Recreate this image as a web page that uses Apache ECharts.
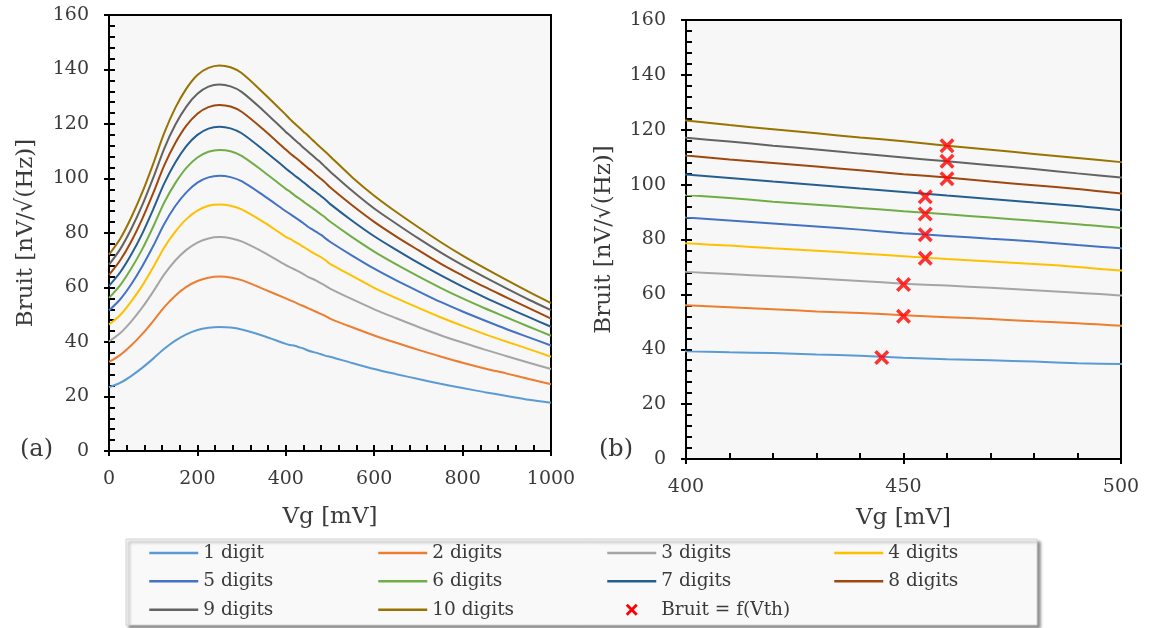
<!DOCTYPE html>
<html>
<head>
<meta charset="utf-8">
<script src="https://cdn.jsdelivr.net/npm/echarts@6/dist/echarts.min.js"></script>
<style>
html,body{margin:0;padding:0;background:#fff;}
#chart{width:1149px;height:628px;}
</style>
</head>
<body>
<div id="chart"></div>
<script>
// ---- data ----
const vg = [0,25,50,75,100,125,150,175,200,225,250,275,300,350,400,410,420,430,440,450,460,470,480,490,500,550,600,650,700,750,800,850,900,950,1000];
const digit1  = [23.4,25.0,27.5,30.5,33.9,37.5,40.5,42.8,44.4,45.2,45.5,45.3,44.6,42.2,39.3,38.9,38.6,38.1,37.6,36.9,36.4,36.0,35.5,34.9,34.6,32.3,30.1,28.2,26.4,24.7,23.1,21.6,20.2,18.8,17.7];
const digit2  = [32.7,35.2,38.7,42.9,47.7,52.8,57.0,60.2,62.4,63.6,64.0,63.7,62.7,59.4,56.0,55.3,54.6,53.8,53.2,52.4,51.7,51.0,50.2,49.5,48.6,45.4,42.4,39.7,37.1,34.7,32.4,30.3,28.4,26.4,24.5];
const digit3  = [40.2,43.2,47.5,52.6,58.5,64.8,69.9,73.8,76.5,78.0,78.5,78.1,76.9,72.9,68.2,67.4,66.6,65.8,64.9,63.9,63.2,62.4,61.5,60.6,59.6,55.7,52.0,48.7,45.5,42.5,39.8,37.2,34.8,32.4,30.1];
const digit4  = [46.4,49.8,54.8,60.6,67.4,74.7,80.5,85.1,88.2,90.0,90.5,90.0,88.7,84.0,78.6,77.8,76.8,75.9,74.9,73.9,72.9,72.0,71.1,70.0,68.7,64.3,59.9,56.1,52.5,49.1,45.9,42.9,40.1,37.4,34.6];
const digit5  = [51.6,55.6,61.1,67.7,75.2,83.3,89.9,94.9,98.5,100.4,101.0,100.5,99.0,93.7,88.0,86.9,85.8,84.7,83.6,82.3,81.3,80.3,79.3,78.0,76.8,71.7,66.9,62.6,58.6,54.7,51.2,47.9,44.7,41.7,38.7];
const digit6  = [56.2,60.8,66.9,74.0,82.3,91.2,98.3,103.9,107.7,109.8,110.5,110.0,108.3,102.5,96.2,95.1,93.8,92.7,91.5,90.3,89.2,88.0,86.8,85.6,84.2,78.5,73.2,68.5,64.1,59.9,56.0,52.4,49.0,45.6,42.3];
const digit7  = [60.6,65.5,72.0,79.7,88.7,98.2,105.9,111.9,116.0,118.3,119.0,118.4,116.6,110.4,103.7,102.4,101.1,99.9,98.6,97.3,96.0,94.8,93.5,92.2,90.7,84.5,78.8,73.8,69.0,64.5,60.3,56.4,52.7,49.1,45.6];
const digit8  = [64.6,69.9,76.8,85.1,94.6,104.8,113.0,119.4,123.8,126.2,127.0,126.4,124.5,117.9,110.6,109.2,107.9,106.6,105.2,103.8,102.6,101.1,99.8,98.4,96.8,90.2,84.1,78.7,73.7,68.8,64.4,60.2,56.3,52.4,48.6];
const digit9  = [68.4,74.0,81.4,90.1,100.2,111.0,119.7,126.4,131.1,133.7,134.5,133.8,131.8,124.8,117.1,115.7,114.2,112.8,111.3,109.9,108.5,107.1,105.7,104.1,102.6,95.5,89.0,83.4,78.0,72.9,68.2,63.8,59.6,55.5,51.7];
const digit10 = [72.1,77.8,85.6,94.8,105.4,116.7,125.9,133.0,138.0,140.6,141.5,140.8,138.7,131.3,123.4,121.7,120.2,118.7,117.2,115.8,114.2,112.7,111.2,109.7,108.2,100.5,93.7,87.7,82.1,76.7,71.7,67.1,62.7,58.4,54.3];
const seriesNames = ['1 digit','2 digits','3 digits','4 digits','5 digits','6 digits','7 digits','8 digits','9 digits','10 digits'];
const seriesValues = [digit1,digit2,digit3,digit4,digit5,digit6,digit7,digit8,digit9,digit10];
const vthX = [445,450,450,455,455,455,455,460,460,460];
const vthY = [37.0,52.0,63.6,73.2,81.7,89.3,95.6,102.1,108.5,114.2];
const vthName = 'Bruit = f(Vth)';
const colors = ['#5B9BD5','#ED7D31','#A5A5A5','#FFC000','#4472C4','#70AD47','#255E91','#9E480E','#636363','#997300'];

// ---- styles ----
const FONT = 'DejaVu Serif';
const TXT = '#3a3a3a';
const xMark = 'path://M0,2 L2,0 L6,4 L10,0 L12,2 L8,6 L12,10 L10,12 L6,8 L2,12 L0,10 L4,6 Z';
// same cross with an invisible margin so the legend icon is drawn smaller
const xMarkLegend = 'path://M-4,-4 L-4,-3.99 Z M16,16 L16,15.99 Z M0,2 L2,0 L6,4 L10,0 L12,2 L8,6 L12,10 L10,12 L6,8 L2,12 L0,10 L4,6 Z';

const grids = [
  {left:109, top:15, width:442, height:436},
  {left:686, top:20, width:435, height:439}
];
const gridOpts = grids.map(g => Object.assign({show:true, backgroundColor:'#f7f7f7', borderColor:'#000', borderWidth:2}, g));
const plain = v => String(v);

function mainX(gi, min, max, interval, nameGap){
  return {type:'value', gridIndex:gi, min, max, interval,
    name:'Vg [mV]', nameLocation:'middle', nameGap,
    nameTextStyle:{fontFamily:FONT, fontSize:23, color:TXT},
    axisLine:{show:true, onZero:false, lineStyle:{color:'#000', width:2}},
    axisTick:{show:true, inside:true, length:6, lineStyle:{color:'#000', width:2}},
    minorTick:{show:true, splitNumber:5, length:6, lineStyle:{color:'#000', width:2}},
    axisLabel:{fontFamily:FONT, fontSize:19, color:TXT, margin:19, formatter:plain},
    splitLine:{show:false}};
}
function ghostX(gi, min, max, interval){
  return {type:'value', gridIndex:gi, min, max, interval, position:'bottom',
    axisLine:{show:false}, axisLabel:{show:false}, splitLine:{show:false},
    axisTick:{show:true, inside:false, length:5, lineStyle:{color:'#000', width:2}}};
}
function mainY(gi, nameGap){
  return {type:'value', gridIndex:gi, min:0, max:160, interval:20,
    name:'Bruit [nV/√(Hz)]', nameLocation:'middle', nameGap,
    nameTextStyle:{fontFamily:FONT, fontSize:23, color:TXT},
    axisLine:{show:true, onZero:false, lineStyle:{color:'#000', width:2}},
    axisTick:{show:true, inside:true, length:6, lineStyle:{color:'#000', width:2}},
    minorTick:{show:true, splitNumber:5, length:6, lineStyle:{color:'#000', width:2}},
    axisLabel:{fontFamily:FONT, fontSize:19, color:TXT, margin:20, formatter:plain},
    splitLine:{show:false}};
}
function ghostY(gi){
  return {type:'value', gridIndex:gi, min:0, max:160, interval:20, position:'left',
    axisLine:{show:false}, axisLabel:{show:false}, splitLine:{show:false},
    axisTick:{show:true, inside:false, length:5, lineStyle:{color:'#000', width:2}}};
}

const series = [];
[0,1].forEach(gi => {
  seriesValues.forEach((vals, i) => {
    series.push({
      type:'line', name:seriesNames[i], xAxisIndex:gi, yAxisIndex:gi,
      data: vg.map((x, k) => [x, vals[k]]),
      symbol:'none', smooth:0.3, clip:true,
      lineStyle:{color:colors[i], width:2}, itemStyle:{color:colors[i]},
      z:2
    });
  });
});
series.push({
  type:'scatter', name:vthName, xAxisIndex:1, yAxisIndex:1,
  data: vthX.map((x, k) => [x, vthY[k]]),
  symbol:xMark, symbolSize:15, symbolKeepAspect:true,
  itemStyle:{color:'#FF0000'}, z:5
});

const legendCols = [
  {names:['1 digit','5 digits','9 digits'], left:148},
  {names:['2 digits','6 digits','10 digits'], left:377},
  {names:['3 digits','7 digits', vthName], left:606},
  {names:['4 digits','8 digits'], left:833}
];
const legends = legendCols.map(c => ({
  orient:'vertical', left:c.left, top:543, padding:0,
  itemWidth:49, itemHeight:20, itemGap:8.35,
  selectedMode:false,
  itemStyle:{opacity:0},
  lineStyle:{width:2.5},
  textStyle:{fontFamily:FONT, fontSize:18.5, color:TXT, lineHeight:20},
  data:c.names.map(n => n === vthName ? {name:n, icon:xMarkLegend, itemStyle:{color:'#FF0000', opacity:1}} : n)
}));

const option = {
  animation:false,
  backgroundColor:'#ffffff',
  grid:gridOpts,
  xAxis:[mainX(0,0,1000,200,55), mainX(1,400,500,50,48), ghostX(0,0,1000,200), ghostX(1,400,500,50)],
  yAxis:[mainY(0,71), mainY(1,70), ghostY(0), ghostY(1)],
  legend:legends,
  graphic:[
    {type:'rect', z:-1, shape:{x:126, y:539, width:911, height:86},
     style:{fill:'#f9f9f9', stroke:'#d4d4d4', lineWidth:1, shadowBlur:3, shadowOffsetX:3, shadowOffsetY:3, shadowColor:'rgba(0,0,0,0.45)'}},
    {type:'text', left:20, top:438, style:{text:'(a)', fontFamily:FONT, fontSize:24, fill:TXT}},
    {type:'text', left:599, top:438, style:{text:'(b)', fontFamily:FONT, fontSize:24, fill:TXT}}
  ],
  series
};
const chart = echarts.init(document.getElementById('chart'), null, {renderer:'canvas'});
chart.setOption(option);
</script>
</body>
</html>
